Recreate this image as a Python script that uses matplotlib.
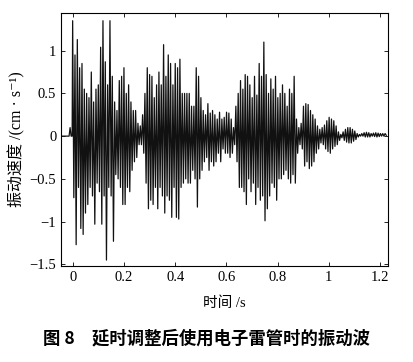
import numpy as np
import matplotlib
matplotlib.use("Agg")
import matplotlib.pyplot as plt

plt.rcParams['font.family'] = ['Liberation Serif', 'Noto Sans CJK SC', 'DejaVu Serif']

# peak values of each oscillation cycle (one row per 0.1 s)
pos_peaks = [
    # 0.0 - 0.1
    1.35, 0.95, 1.13, 0.80, 0.85, 0.55, 0.50, 0.45, 0.75, 0.40, 0.55,
    # 0.1 - 0.2
    0.60, 1.04, 1.35, 0.87, 0.60, 1.35, 0.70, 0.40, 0.30, 0.65, 0.70,
    # 0.2 - 0.3
    0.80, 0.50, 0.60, 0.40, 0.30, 0.30, 0.15, 0.12, 0.25, 0.50, 0.80,
    # 0.3 - 0.4
    0.72, 0.70, 0.45, 0.60, 0.75, 0.60, 1.07, 0.70, 0.95, 0.85, 0.60,
    # 0.4 - 0.5
    0.85, 0.80, 0.90, 0.50, 0.50, 0.50, 0.50, 0.35, 0.35, 0.80, 0.70,
    # 0.5 - 0.6
    0.45, 0.30, 0.25, 0.38, 0.27, 0.30, 0.25, 0.20, 0.28, 0.20, 0.22,
    # 0.6 - 0.7
    0.28, 0.27, 0.20, 0.10, 0.35, 0.50, 0.65, 0.55, 0.72, 0.70, 0.60,
    # 0.7 - 0.8
    0.45, 0.70, 0.48, 0.85, 0.70, 1.10, 0.72, 0.50, 0.67, 0.55, 0.70,
    # 0.8 - 0.9
    0.45, 0.50, 0.60, 0.50, 0.35, 0.55, 0.50, 0.70, 0.20, 0.10, 0.15,
    # 0.9 - 1.0
    0.35, 0.38, 0.37, 0.30, 0.25, 0.20, 0.12, 0.08, 0.10, 0.13, 0.18,
    # 1.0 - 1.1
    0.22, 0.20, 0.18, 0.12, 0.05, 0.02, 0.05, 0.08, 0.10, 0.10, 0.08,
    # 1.1 - 1.2
    0.06, 0.03, 0.02, 0.03, 0.04, 0.045, 0.04, 0.03, 0.035, 0.04, 0.035,
    # 1.2 -
    0.03, 0.03, 0.03,
]
neg_peaks = [
    -0.72, -1.27, -0.60, -1.08, -1.15, -0.90, -0.80, -0.60, -0.70, -1.03, -0.55,
    -0.65, -1.03, -0.70, -1.45, -0.60, -0.70, -1.23, -0.45, -0.50, -0.60, -0.80,
    -0.80, -0.60, -0.65, -0.40, -0.30, -0.25, -0.10, -0.10, -0.20, -0.55, -0.85,
    -0.75, -0.80, -0.60, -0.85, -0.60, -0.70, -0.90, -0.70, -0.75, -0.95, -0.60,
    -0.95, -0.97, -0.60, -0.55, -0.50, -0.55, -0.55, -0.40, -0.50, -0.83, -0.50,
    -0.40, -0.30, -0.25, -0.40, -0.30, -0.35, -0.30, -0.20, -0.30, -0.15, -0.20,
    -0.20, -0.25, -0.20, -0.10, -0.30, -0.60, -0.60, -0.65, -0.80, -0.50, -0.65,
    -0.55, -0.80, -0.60, -0.75, -0.70, -0.99, -0.85, -0.70, -0.55, -0.60, -0.75,
    -0.50, -0.50, -0.45, -0.40, -0.50, -0.55, -0.45, -0.55, -0.20, -0.10, -0.15,
    -0.35, -0.30, -0.38, -0.35, -0.30, -0.20, -0.15, -0.08, -0.10, -0.15, -0.18,
    -0.20, -0.15, -0.12, -0.10, -0.05, -0.02, -0.05, -0.07, -0.08, -0.08, -0.06,
    -0.04, -0.01, 0.0, 0.0, -0.01, -0.01, -0.01, 0.0, -0.005, -0.01, -0.005,
    0.0, 0.0, 0.01,
]
cycle = 0.0091  # s per oscillation

# quiet lead-in before the first arrival
lead_t = [-0.05, -0.014, -0.010, -0.006, -0.002]
lead_v = [0.0, 0.0, 0.10, 0.0, 0.0]

yticks = [-1.5, -1, -0.5, 0, 0.5, 1]
ytick_labels = ["\u22121.5", "\u22121", "\u22120.5", "0", "0.5", "1"]
xticks = [0, 0.2, 0.4, 0.6, 0.8, 1.0, 1.2]
xtick_labels = ["0", "0.2", "0.4", "0.6", "0.8", "1", "1.2"]

# interleave positive and negative peaks into one trace
wave = np.ravel(np.column_stack([pos_peaks, neg_peaks]))
wave_t = np.arange(len(wave)) * cycle / 2
t = np.concatenate([lead_t, wave_t])
v = np.concatenate([lead_v, wave])

fig = plt.figure(figsize=(4.13, 3.62), dpi=100)
ax = fig.add_axes([0.148, 0.265, 0.791, 0.699])
ax.plot(t, v, color='#111111', linewidth=0.9)

ax.set_xlim(-0.045, 1.23)
ax.set_ylim(-1.52, 1.44)
ax.set_xticks(xticks)
ax.set_xticklabels(xtick_labels)
ax.set_yticks(yticks)
ax.set_yticklabels(ytick_labels)
ax.tick_params(direction='in', top=True, right=True, labelsize=10.5, length=3, width=0.6)
for s in ax.spines.values():
    s.set_linewidth(0.8)

ax.set_xlabel("时间 /s", fontsize=10.5, labelpad=9)
ax.set_ylabel("振动速度 /(cm · s\u207b\u00b9)", fontsize=11.5, labelpad=3)

fig.text(0.5, 0.065, "图 8　延时调整后使用电子雷管时的振动波", ha='center', va='center',
         fontsize=12.5, fontweight='bold', family=['Noto Sans CJK SC'])

fig.savefig("out.png", dpi=100)
